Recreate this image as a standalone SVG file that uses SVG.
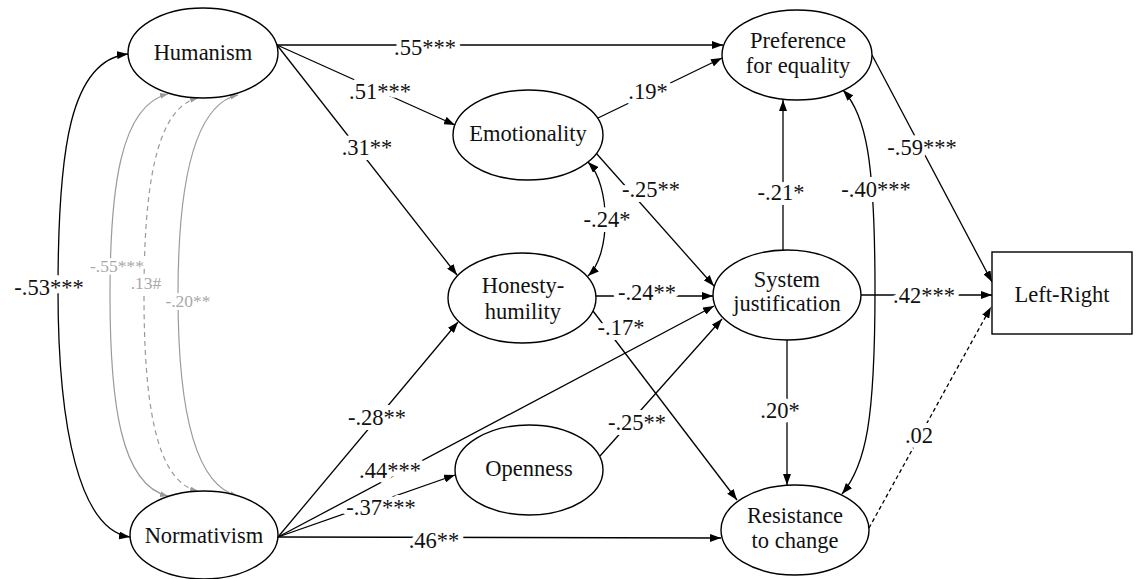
<svg xmlns="http://www.w3.org/2000/svg" width="1136" height="579" viewBox="0 0 1136 579" font-family="'Liberation Serif', 'DejaVu Serif', serif">
  <style>
    text { font-family: 'Liberation Serif', 'DejaVu Serif', serif; }
    .node ellipse, .node rect { fill: #fff; stroke: #000; stroke-width: 1.4; }
    .node text { font-size: 22.5px; fill: #111; text-anchor: middle; }
    .edge { fill: none; stroke: #000; stroke-width: 1.3; marker-end: url(#arr); }
    .both { marker-start: url(#arr); }
    .dash { stroke-dasharray: 4 3; }
    .grey { fill: none; stroke: #9a9a9a; stroke-width: 1.2; marker-start: url(#arrg); marker-end: url(#arrg); }
    .gdash { stroke-dasharray: 5 4; }
    .lbl { font-size: 22.5px; fill: #111; text-anchor: middle; stroke: #fff; stroke-width: 10; stroke-linejoin: round; paint-order: stroke; }
    .glbl { font-size: 17.5px; fill: #a8a8a8; text-anchor: middle; stroke: #fff; stroke-width: 6; stroke-linejoin: round; paint-order: stroke; }
  </style>
  <defs>
    <marker id="arr" markerUnits="userSpaceOnUse" markerWidth="11" markerHeight="8" refX="11" refY="4" orient="auto-start-reverse">
      <path d="M0,0 L11,4 L0,8 z" fill="#000"/>
    </marker>
    <marker id="arrg" markerUnits="userSpaceOnUse" markerWidth="8" markerHeight="6" refX="8" refY="3" orient="auto-start-reverse">
      <path d="M0,0 L8,3 L0,6 z" fill="#9a9a9a"/>
    </marker>
  </defs>
  <rect width="1136" height="579" fill="#fff"/>

  <g id="connectors">
    <!-- correlations between the two worldviews -->
    <path class="edge both" d="M128,54 C70,60 58,150 58,290 C58,430 80,530 130,537"/>
    <path class="grey" d="M168,94 C120,105 110,190 110,295 C110,400 120,485 168,496"/>
    <path class="grey gdash" d="M198,98 C155,108 144,190 144,295 C144,400 155,482 198,491"/>
    <path class="grey" d="M238,95 C192,105 178,190 178,295 C178,400 192,485 238,496"/>

    <!-- paths from Humanism -->
    <path class="edge" d="M277,45 L723,45"/>
    <path class="edge" d="M277,45 L455,125"/>
    <path class="edge" d="M277,45 L457,275"/>

    <!-- paths from Normativism -->
    <path class="edge" d="M278,537 L458,322"/>
    <path class="edge" d="M278,537 L714,306"/>
    <path class="edge" d="M278,537 L455,475"/>
    <path class="edge" d="M278,537 L721,538"/>

    <!-- personality traits -->
    <path class="edge" d="M598,118 L722,58"/>
    <path class="edge" d="M596,153 L714,286"/>
    <path class="edge both" d="M588,162 C611,185 611,255 588,276"/>
    <path class="edge" d="M596,296 L713,296"/>
    <path class="edge" d="M593,311 L737,500"/>
    <path class="edge" d="M600,456 L722,319"/>

    <!-- ideological attitudes -->
    <path class="edge" d="M783,250 L783,100"/>
    <path class="edge" d="M787,340 L787,485"/>
    <path class="edge both" d="M843,90 C866,115 875,160 875,290 C875,420 866,465 842,494"/>

    <!-- into Left-Right -->
    <path class="edge" d="M872,55 L992,282"/>
    <path class="edge" d="M861,295 L992,295"/>
    <path class="edge dash" d="M869,528 L991,307"/>

    <!-- coefficients -->
    <text class="lbl" x="49" y="295">-.53***</text>
    <text class="glbl" x="117" y="272">-.55***</text>
    <text class="glbl" x="146" y="289">.13#</text>
    <text class="glbl" x="188" y="307">-.20**</text>
    <text class="lbl" x="425" y="55">.55***</text>
    <text class="lbl" x="380" y="99">.51***</text>
    <text class="lbl" x="367" y="155">.31**</text>
    <text class="lbl" x="648" y="99">.19*</text>
    <text class="lbl" x="651" y="197">-.25**</text>
    <text class="lbl" x="607" y="227">-.24*</text>
    <text class="lbl" x="647" y="300">-.24**</text>
    <text class="lbl" x="621" y="335">-.17*</text>
    <text class="lbl" x="377" y="425">-.28**</text>
    <text class="lbl" x="390" y="478">.44***</text>
    <text class="lbl" x="381" y="515">-.37***</text>
    <text class="lbl" x="434" y="548">.46**</text>
    <text class="lbl" x="637" y="430">-.25**</text>
    <text class="lbl" x="781" y="200">-.21*</text>
    <text class="lbl" x="876" y="197">-.40***</text>
    <text class="lbl" x="922" y="155">-.59***</text>
    <text class="lbl" x="924" y="303">.42***</text>
    <text class="lbl" x="780" y="418">.20*</text>
    <text class="lbl" x="919" y="443">.02</text>
  </g>

  <g id="humanism" class="node">
    <ellipse cx="203" cy="53" rx="75" ry="45"/>
    <text x="203" y="60">Humanism</text>
  </g>
  <g id="normativism" class="node">
    <ellipse cx="204" cy="535" rx="74" ry="44"/>
    <text x="204" y="543">Normativism</text>
  </g>
  <g id="emotionality" class="node">
    <ellipse cx="528" cy="135" rx="75" ry="45"/>
    <text x="528" y="141">Emotionality</text>
  </g>
  <g id="honesty-humility" class="node">
    <ellipse cx="522" cy="298" rx="74" ry="45"/>
    <text x="523" y="293">Honesty-</text>
    <text x="523" y="319">humility</text>
  </g>
  <g id="openness" class="node">
    <ellipse cx="529" cy="470" rx="74" ry="45"/>
    <text x="529" y="476">Openness</text>
  </g>
  <g id="preference-for-equality" class="node">
    <ellipse cx="797" cy="55" rx="75" ry="45"/>
    <text x="798" y="48">Preference</text>
    <text x="798" y="73">for equality</text>
  </g>
  <g id="system-justification" class="node">
    <ellipse cx="787" cy="295" rx="74" ry="45"/>
    <text x="787" y="287">System</text>
    <text x="787" y="311">justification</text>
  </g>
  <g id="resistance-to-change" class="node">
    <ellipse cx="795" cy="530" rx="74" ry="45"/>
    <text x="795" y="523">Resistance</text>
    <text x="795" y="548">to change</text>
  </g>
  <g id="left-right" class="node">
    <rect x="992" y="252" width="140" height="82"/>
    <text x="1062" y="302">Left-Right</text>
  </g>
</svg>
